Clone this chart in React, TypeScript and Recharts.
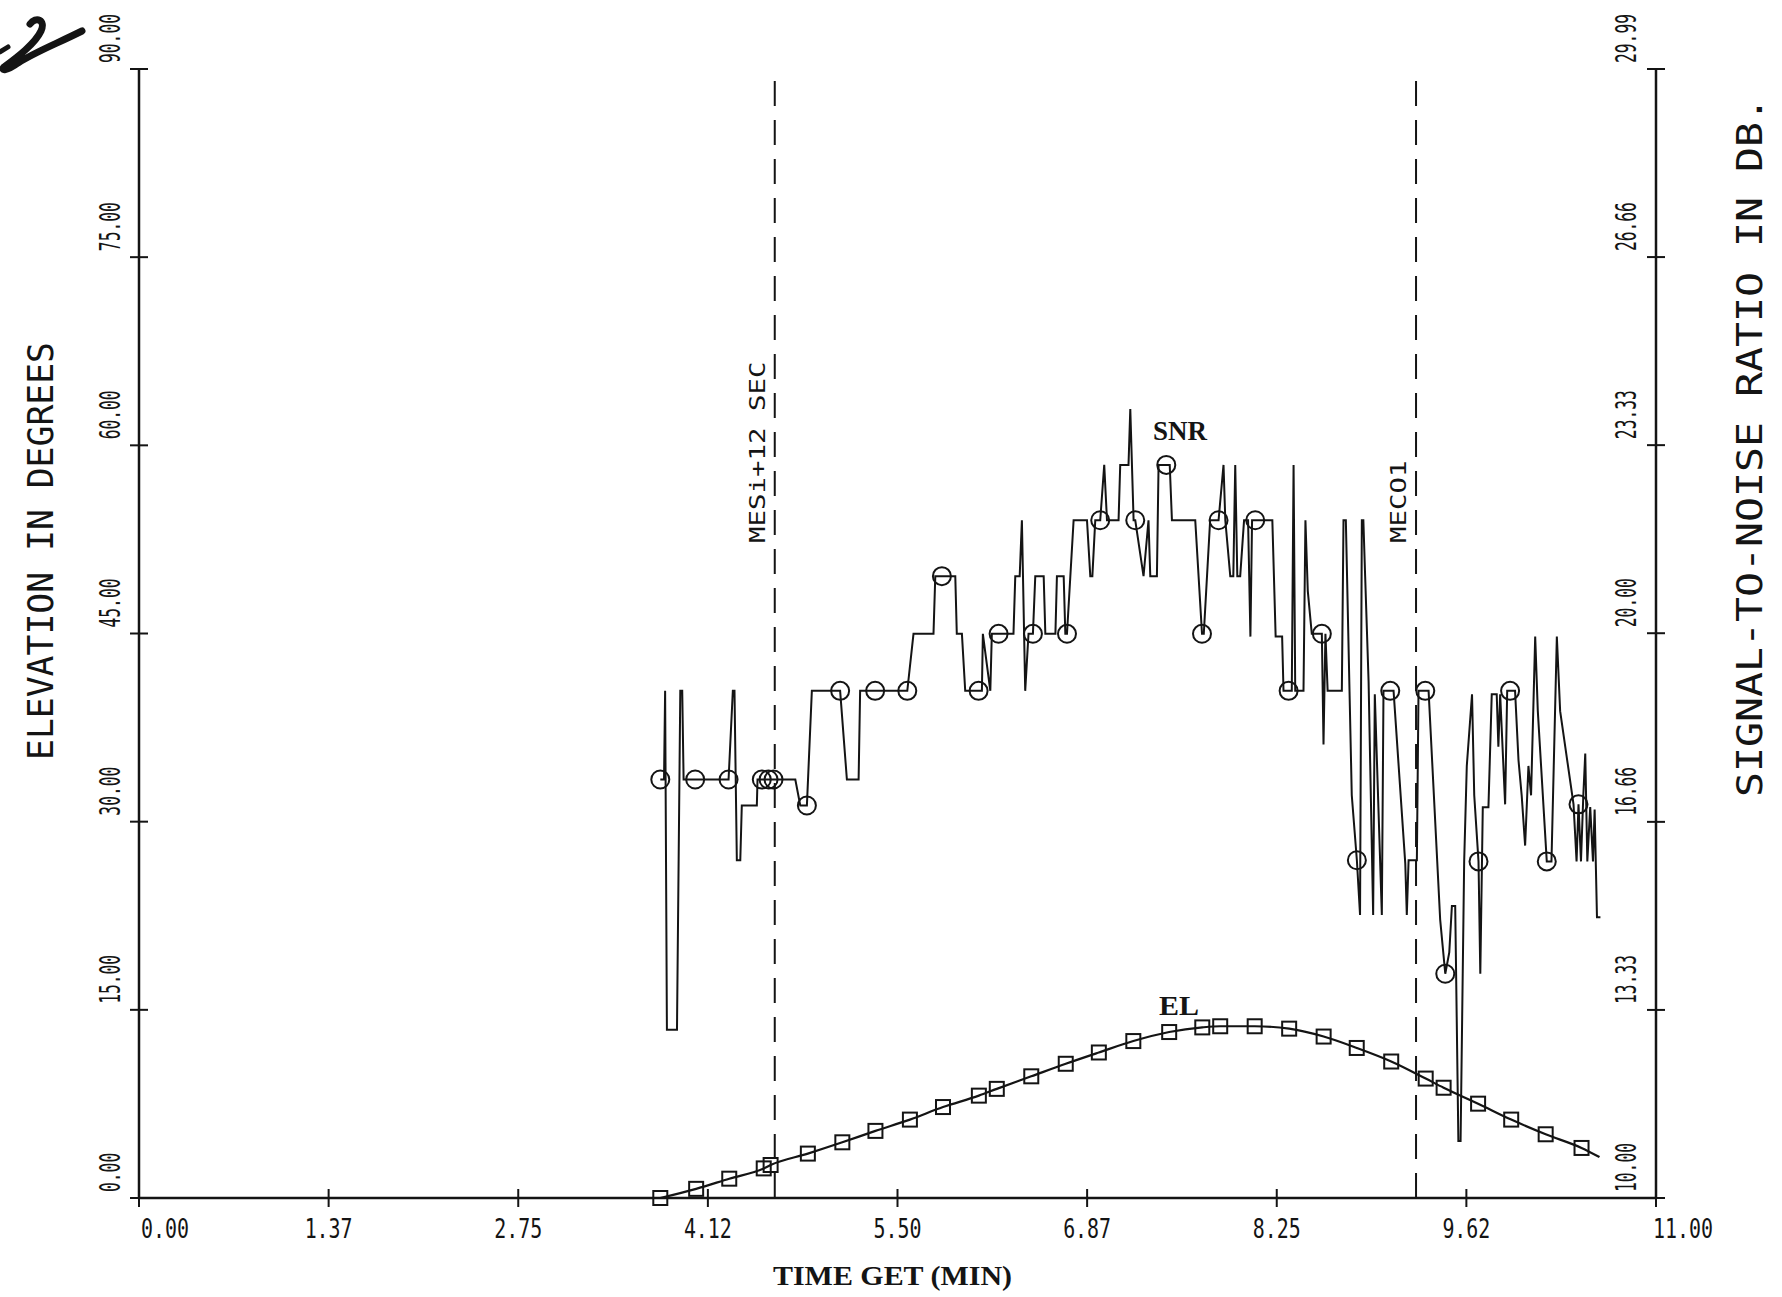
import React from 'react';
import { ComposedChart, Line, XAxis, YAxis, ReferenceLine } from 'recharts';

// axis ticks
const xTicks = [0, 1.375, 2.75, 4.125, 5.5, 6.875, 8.25, 9.625, 11];
const xTickLabels = ['0.00', '1.37', '2.75', '4.12', '5.50', '6.87', '8.25', '9.62', '11.00'];
const elTicks = [0, 15, 30, 45, 60, 75, 90];
const elTickLabels = ['0.00', '15.00', '30.00', '45.00', '60.00', '75.00', '90.00'];
const snrTicks = [10, 13.33, 16.66, 20, 23.33, 26.66, 29.99];
const snrTickLabels = ['10.00', '13.33', '16.66', '20.00', '23.33', '26.66', '29.99'];

// elevation (deg) vs time (min)
const elTime = [
  3.78, 4.04, 4.28, 4.53, 4.58, 4.85, 5.10, 5.34, 5.59, 5.83,
  6.09, 6.22, 6.47, 6.72, 6.96, 7.21, 7.47, 7.71, 7.84, 8.09,
  8.34, 8.59, 8.83, 9.08, 9.33, 9.46, 9.71, 9.95, 10.20, 10.46,
  10.59,
];
const elDeg = [
  0, 0.73, 1.54, 2.36, 2.63, 3.54, 4.44, 5.35, 6.25, 7.25,
  8.16, 8.70, 9.70, 10.70, 11.60, 12.51, 13.23, 13.60, 13.69, 13.69,
  13.50, 12.87, 11.96, 10.88, 9.52, 8.79, 7.52, 6.25, 5.08, 3.99,
  3.26,
];

// signal-to-noise ratio (dB) vs time (min)
const snrTime = [
  3.780, 3.807, 3.815, 3.828, 3.901, 3.925, 3.939, 3.949, 4.033, 4.275,
  4.306, 4.318, 4.335, 4.360, 4.371, 4.480, 4.485, 4.516, 4.565, 4.601,
  4.759, 4.795, 4.843, 4.879, 5.084, 5.133, 5.218, 5.229, 5.338, 5.571,
  5.616, 5.761, 5.774, 5.822, 5.919, 5.930, 5.967, 5.991, 6.088, 6.112,
  6.119, 6.173, 6.184, 6.233, 6.341, 6.354, 6.386, 6.402, 6.426, 6.450,
  6.482, 6.499, 6.560, 6.572, 6.645, 6.656, 6.705, 6.717, 6.729, 6.777,
  6.874, 6.898, 6.913, 6.934, 6.970, 6.999, 7.019, 7.103, 7.115, 7.175,
  7.188, 7.212, 7.224, 7.284, 7.320, 7.333, 7.381, 7.393, 7.449, 7.474,
  7.490, 7.659, 7.708, 7.721, 7.767, 7.828, 7.864, 7.877, 7.913, 7.935,
  7.949, 7.964, 7.985, 8.013, 8.042, 8.059, 8.071, 8.094, 8.218, 8.242,
  8.289, 8.299, 8.336, 8.359, 8.372, 8.384, 8.444, 8.458, 8.475, 8.504,
  8.577, 8.589, 8.603, 8.619, 8.722, 8.734, 8.751, 8.794, 8.831, 8.854,
  8.867, 8.878, 8.891, 8.916, 8.949, 8.961, 9.012, 9.024, 9.073, 9.097,
  9.182, 9.193, 9.206, 9.266, 9.278, 9.327, 9.351, 9.435, 9.472, 9.501,
  9.520, 9.544, 9.567, 9.583, 9.609, 9.628, 9.666, 9.682, 9.713, 9.726,
  9.744, 9.785, 9.809, 9.845, 9.857, 9.870, 9.906, 9.921, 9.942, 9.978,
  10.003, 10.026, 10.051, 10.075, 10.094, 10.124, 10.143, 10.208, 10.242, 10.281,
  10.305, 10.402, 10.424, 10.438, 10.456, 10.473, 10.487, 10.502, 10.523, 10.543,
  10.555, 10.572, 10.597,
];
const snrDb = [
  17.41, 17.41, 18.98, 12.98, 12.98, 18.98, 18.98, 17.41, 17.41, 17.41,
  18.98, 18.98, 15.98, 15.98, 16.95, 16.95, 17.41, 17.41, 17.41, 17.41,
  17.41, 16.95, 16.95, 18.98, 18.98, 17.41, 17.41, 18.98, 18.98, 18.98,
  19.99, 19.99, 21.01, 21.01, 21.01, 19.99, 19.99, 18.98, 18.98, 18.98,
  19.99, 18.98, 19.99, 19.99, 19.99, 21.01, 21.01, 22.00, 18.98, 19.99,
  19.99, 21.01, 21.01, 19.99, 19.99, 21.01, 21.01, 19.99, 19.99, 22.00,
  22.00, 21.01, 21.01, 22.00, 22.00, 22.98, 22.00, 22.00, 22.98, 22.98,
  23.97, 22.00, 22.00, 21.01, 22.00, 21.01, 21.01, 22.98, 22.98, 22.98,
  22.00, 22.00, 19.99, 19.99, 22.00, 22.00, 22.98, 22.00, 21.01, 21.01,
  22.98, 21.01, 21.01, 22.00, 22.00, 19.94, 22.00, 22.00, 22.00, 19.94,
  19.94, 18.98, 18.98, 18.98, 22.98, 18.98, 18.98, 22.00, 20.75, 19.99,
  19.99, 18.03, 19.99, 18.98, 18.98, 22.00, 22.00, 17.13, 15.98, 15.01,
  22.00, 22.00, 21.01, 19.14, 15.01, 18.92, 15.01, 18.98, 18.98, 18.98,
  15.92, 15.01, 15.98, 15.98, 18.98, 18.98, 18.98, 14.93, 13.97, 14.35,
  15.17, 15.17, 11.01, 11.01, 15.96, 17.65, 18.92, 17.13, 15.96, 13.97,
  16.92, 16.92, 18.92, 18.92, 17.99, 18.92, 16.97, 18.98, 18.98, 18.98,
  17.75, 17.13, 16.24, 17.65, 17.13, 19.94, 18.62, 15.96, 15.96, 19.94,
  18.62, 16.97, 15.96, 16.97, 15.96, 17.13, 17.87, 15.96, 16.92, 15.96,
  16.88, 14.97, 14.97,
];
// samples drawn with a circle symbol
const snrCircleIdx = [
  0, 8, 9, 17, 18, 19, 22, 24, 28, 29, 33, 38, 43, 50, 58, 64,
  72, 78, 82, 85, 97, 102, 110, 118, 128, 135, 138, 148, 158, 167, 173,
];

// event markers
const eventTime = [4.61, 9.26];
const eventLabel = ['MESi+12 SEC', 'MECO1'];

const elRows = elTime.map((t, i) => ({ t, v: elDeg[i], mark: i < elTime.length - 1 }));
const snrRows = snrTime.map((t, i) => ({ t, v: snrDb[i], mark: snrCircleIdx.includes(i) }));

const INK = '#141414';
const MONO = '"DejaVu Sans Mono", monospace';
const SERIF = '"Liberation Serif", "DejaVu Serif", serif';

function XTick(props: any) {
  const { x, y, payload } = props;
  const i = xTicks.indexOf(payload.value);
  const label = xTickLabels[i] ?? '';
  const w = label.length * 12;
  const tx = i === 0 ? x + 2 : i === xTicks.length - 1 ? x - 3 : x - w / 2;
  return (
    <g>
      <line x1={x} x2={x} y1={y - 9} y2={y + 9} stroke={INK} strokeWidth={2} />
      <text x={tx} y={y + 40} fontFamily={MONO} fontSize={27} fill={INK}
        textLength={w} lengthAdjust="spacingAndGlyphs">{label}</text>
    </g>
  );
}

function makeYTick(ticks: number[], labels: string[], dx: number) {
  return function YTick(props: any) {
    const { x, y, payload } = props;
    const i = ticks.indexOf(payload.value);
    const label = labels[i] ?? '';
    const w = label.length * 9.8;
    return (
      <g>
        <line x1={x - 9} x2={x + 9} y1={y} y2={y} stroke={INK} strokeWidth={2} />
        <text transform={`translate(${x + dx},${y - 6}) rotate(-90)`} dominantBaseline="central"
          fontFamily={MONO} fontSize={29} fill={INK} textLength={w} lengthAdjust="spacingAndGlyphs">{label}</text>
      </g>
    );
  };
}
const ElTick = makeYTick(elTicks, elTickLabels, -29);
const SnrTick = makeYTick(snrTicks, snrTickLabels, -30);

function circleDot(p: any) {
  const { cx, cy, payload, index } = p;
  if (!payload.mark) return <g key={`c${index}`} />;
  return <circle key={`c${index}`} cx={cx} cy={cy} r={9} fill="none" stroke={INK} strokeWidth={2} />;
}

function squareDot(p: any) {
  const { cx, cy, payload, index } = p;
  if (!payload.mark) return <g key={`s${index}`} />;
  return <rect key={`s${index}`} x={cx - 7} y={cy - 7} width={14} height={14} fill="none" stroke={INK} strokeWidth={2} />;
}

function eventLabelContent(text: string) {
  return (p: any) => {
    const vb = p.viewBox;
    return (
      <text transform={`translate(${vb.x - 17},${vb.y + 474}) rotate(-90)`} dominantBaseline="central"
        fontFamily={MONO} fontSize={21} fill={INK} textLength={text.length * 16.5} lengthAdjust="spacingAndGlyphs">
        {text}
      </text>
    );
  };
}

export default function App() {
  return (
    <div style={{ position: 'absolute', left: 0, top: 0, width: 1782, height: 1297, background: '#fff' }}>
      <ComposedChart width={1782} height={1297} margin={{ top: 69, right: 66, bottom: 59, left: 79 }}>
        <XAxis type="number" dataKey="t" domain={[0, 11]} ticks={xTicks} interval={0} allowDataOverflow
          height={40} tickSize={0} tickMargin={0} tickLine={false} tick={<XTick />}
          axisLine={{ stroke: INK, strokeWidth: 2.5 }}
          label={{
            content: (p: any) => {
              const vb = p.viewBox;
              return (
                <text x={vb.x + vb.width / 2 - 5} y={vb.y + 87} textAnchor="middle" fontFamily={SERIF}
                  fontWeight="bold" fontSize={27} fill={INK} textLength={239} lengthAdjust="spacingAndGlyphs">
                  TIME GET (MIN)
                </text>
              );
            },
          }} />
        <YAxis yAxisId="el" type="number" domain={[0, 90]} ticks={elTicks} interval={0} width={60}
          tickSize={0} tickMargin={0} tickLine={false} tick={<ElTick />}
          axisLine={{ stroke: INK, strokeWidth: 2.5 }}
          label={{
            content: (p: any) => {
              const vb = p.viewBox;
              return (
                <text transform={`translate(${vb.x - 39},${vb.y + 482}) rotate(-90)`} textAnchor="middle"
                  dominantBaseline="central" fontFamily={MONO} fontSize={36} fill={INK}
                  textLength={418} lengthAdjust="spacingAndGlyphs">
                  ELEVATION IN DEGREES
                </text>
              );
            },
          }} />
        <YAxis yAxisId="snr" orientation="right" type="number" domain={[10, 29.99]} ticks={snrTicks} interval={0}
          width={60} tickSize={0} tickMargin={0} tickLine={false} tick={<SnrTick />}
          axisLine={{ stroke: INK, strokeWidth: 2.5 }}
          label={{
            content: (p: any) => {
              const vb = p.viewBox;
              return (
                <text transform={`translate(${vb.x + 94},${vb.y + 378}) rotate(-90)`} textAnchor="middle"
                  dominantBaseline="central" fontFamily={MONO} fontSize={35} fill={INK}
                  textLength={700} lengthAdjust="spacingAndGlyphs">
                  SIGNAL-TO-NOISE RATIO IN DB.
                </text>
              );
            },
          }} />
        {eventTime.map((t, i) => (
          <ReferenceLine key={eventLabel[i]} yAxisId="el" x={t} stroke={INK} strokeWidth={2}
            strokeDasharray="25 14" label={{ content: eventLabelContent(eventLabel[i]) }} />
        ))}
        <Line yAxisId="snr" data={snrRows} dataKey="v" type="linear" stroke={INK} strokeWidth={2}
          dot={circleDot} activeDot={false} isAnimationActive={false} />
        <Line yAxisId="el" data={elRows} dataKey="v" type="monotone" stroke={INK} strokeWidth={2.2}
          dot={squareDot} activeDot={false} isAnimationActive={false} />
      </ComposedChart>
      <svg width={1782} height={1297} style={{ position: 'absolute', left: 0, top: 0, pointerEvents: 'none' }}>
        <text x={1180} y={440} textAnchor="middle" fontFamily={SERIF} fontWeight="bold" fontSize={28} fill={INK}
          textLength={54} lengthAdjust="spacingAndGlyphs">SNR</text>
        <text x={1179} y={1015} textAnchor="middle" fontFamily={SERIF} fontWeight="bold" fontSize={28} fill={INK}
          textLength={40} lengthAdjust="spacingAndGlyphs">EL</text>
        <path d="M 30 24 C 36 16, 46 20, 41 31 C 35 44, 16 58, 4 67 C 0 71, 7 71, 18 63 C 35 52, 56 44, 82 31"
          fill="none" stroke={INK} strokeWidth={7} strokeLinecap="round" />
        <path d="M 0 52 L 8 47" fill="none" stroke={INK} strokeWidth={5} strokeLinecap="round" />
      </svg>
    </div>
  );
}
